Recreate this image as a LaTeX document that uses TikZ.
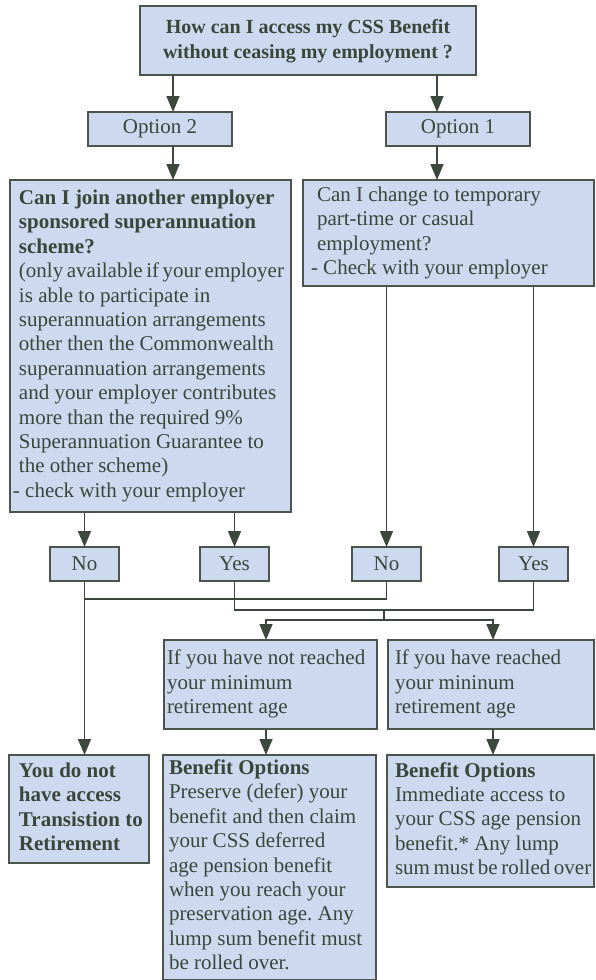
\documentclass[tikz,border=0pt]{standalone}
\usepackage{fontspec}
\setmainfont{Liberation Serif}
\usetikzlibrary{arrows.meta}
\definecolor{boxfill}{HTML}{CCD9EF}
\definecolor{boxline}{HTML}{4B554B}
\definecolor{txt}{HTML}{3A463A}
\definecolor{arr}{HTML}{3C483C}
\newcommand\bxt[2]{\makebox[#1][l]{\begin{tabular}{@{}l@{}}#2\end{tabular}}}
\newcommand\tight[1]{{\spaceskip=0.17em plus 0.05em\relax #1}}
\frenchspacing
\begin{document}
\begin{tikzpicture}[x=1pt,y=-1pt,
  box/.style={draw=boxline, fill=boxfill, line width=1.4pt, text=txt,
    anchor=north west, inner ysep=0pt, outer sep=0pt,
    font=\fontsize{21}{24.4}\selectfont},
  conn/.style={draw=arr, line width=1.6pt},
  arrowc/.style={conn, -{Triangle[length=16pt,width=13pt]}}]
\useasboundingbox (0,0) rectangle (595,980);

% boxes
\node[box, minimum width=336pt, minimum height=69pt, inner xsep=0pt, font=\fontsize{20}{25}\selectfont\bfseries] (top) at (140,6)
  {\begin{tabular}{@{}c@{}}How can I access my CSS Benefit\\without ceasing my employment ?\end{tabular}};
\node[box, minimum width=144pt, minimum height=34pt, inner xsep=0pt] (opt2) at (88,112) {Option 2};
\node[box, minimum width=144pt, minimum height=34pt, inner xsep=0pt] (opt1) at (386,112) {Option 1};
\node[box, minimum width=281pt, minimum height=332pt, inner xsep=9pt] (q2) at (10,180)
  {\bxt{263pt}{\textbf{Can I join another employer}\\
  \textbf{sponsored superannuation}\\
  \textbf{scheme?}\\
  \tight{(only available if your employer}\\
  is able to participate in\\
  superannuation arrangements\\
  other then the Commonwealth\\
  superannuation arrangements\\
  and your employer contributes\\
  more than the required 9\%\\
  Superannuation Guarantee to\\
  the other scheme)\\
  \hspace*{-6pt}- check with your employer}};
\node[box, minimum width=291pt, minimum height=106pt, inner xsep=14pt] (q1) at (303,180)
  {\bxt{263pt}{Can I change to temporary\\
  part-time or casual\\
  employment?\\
  \hspace*{-6pt}- Check with your employer}};
\node[box, minimum width=69pt, minimum height=34pt, inner xsep=0pt] (no1) at (50,547) {No};
\node[box, minimum width=69pt, minimum height=34pt, inner xsep=0pt] (yes1) at (200,547) {Yes};
\node[box, minimum width=69pt, minimum height=34pt, inner xsep=0pt] (no2) at (352,547) {No};
\node[box, minimum width=69pt, minimum height=34pt, inner xsep=0pt] (yes2) at (499,547) {Yes};
\node[box, minimum width=213pt, minimum height=89pt, inner xsep=3pt] (nr) at (164,640)
  {\bxt{207pt}{If you have not reached\\your minimum\\retirement age}};
\node[box, minimum width=206pt, minimum height=89pt, inner xsep=7pt] (r) at (388,640)
  {\bxt{192pt}{If you have reached\\your mininum\\retirement age}};
\node[box, minimum width=140pt, minimum height=108pt, inner xsep=10pt, font=\fontsize{21}{24.4}\selectfont\bfseries] (nope) at (9,755)
  {\bxt{120pt}{You do not\\have access\\Transistion to\\Retirement}};
\node[box, minimum width=213pt, minimum height=224.5pt, inner xsep=6pt] (ben1) at (163,755)
  {\bxt{201pt}{\textbf{Benefit Options}\\
  Preserve (defer) your\\
  benefit and then claim\\
  your CSS deferred\\
  age pension benefit\\
  when you reach your\\
  preservation age. Any\\
  lump sum benefit must\\
  be rolled over.}};
\node[box, minimum width=207pt, minimum height=132pt, inner xsep=8pt] (ben2) at (387,755)
  {\bxt{191pt}{\textbf{Benefit Options}\\
  Immediate access to\\
  your CSS age pension\\
  benefit.* Any lump\\
  \tight{sum must be rolled over}}};

% helper coordinates
\coordinate (xa) at (173,0);
\coordinate (xb) at (437,0);
\coordinate (xc) at (266,0);
\coordinate (xd) at (493,0);
\coordinate (jn) at (0,599);
\coordinate (jy) at (384,610);
\coordinate (jz) at (384,620);

% connectors
\draw[arrowc] (top.south -| xa) -- (opt2.north -| xa);
\draw[arrowc] (top.south -| xb) -- (opt1.north -| xb);
\draw[arrowc] (opt2.south -| xa) -- (q2.north -| xa);
\draw[arrowc] (opt1.south -| xb) -- (q1.north -| xb);
\draw[arrowc] (q2.south -| no1.south) -- (no1.north);
\draw[arrowc] (q2.south -| yes1.south) -- (yes1.north);
\draw[arrowc] (q1.south -| no2.south) -- (no2.north);
\draw[arrowc] (q1.south -| yes2.south) -- (yes2.north);
\draw[arrowc] (no1.south) -- (nope.north -| no1.south);
\draw[conn] (no1.south |- jn) -| (no2.south);
\draw[conn] (yes1.south) |- (jy) -| (yes2.south);
\draw[conn] (jy) -- (jz);
\draw[arrowc] (jz) -| (nr.north -| xc);
\draw[arrowc] (jz) -| (r.north -| xd);
\draw[arrowc] (nr.south -| xc) -- (ben1.north -| xc);
\draw[arrowc] (r.south -| xd) -- (ben2.north -| xd);
\end{tikzpicture}
\end{document}
